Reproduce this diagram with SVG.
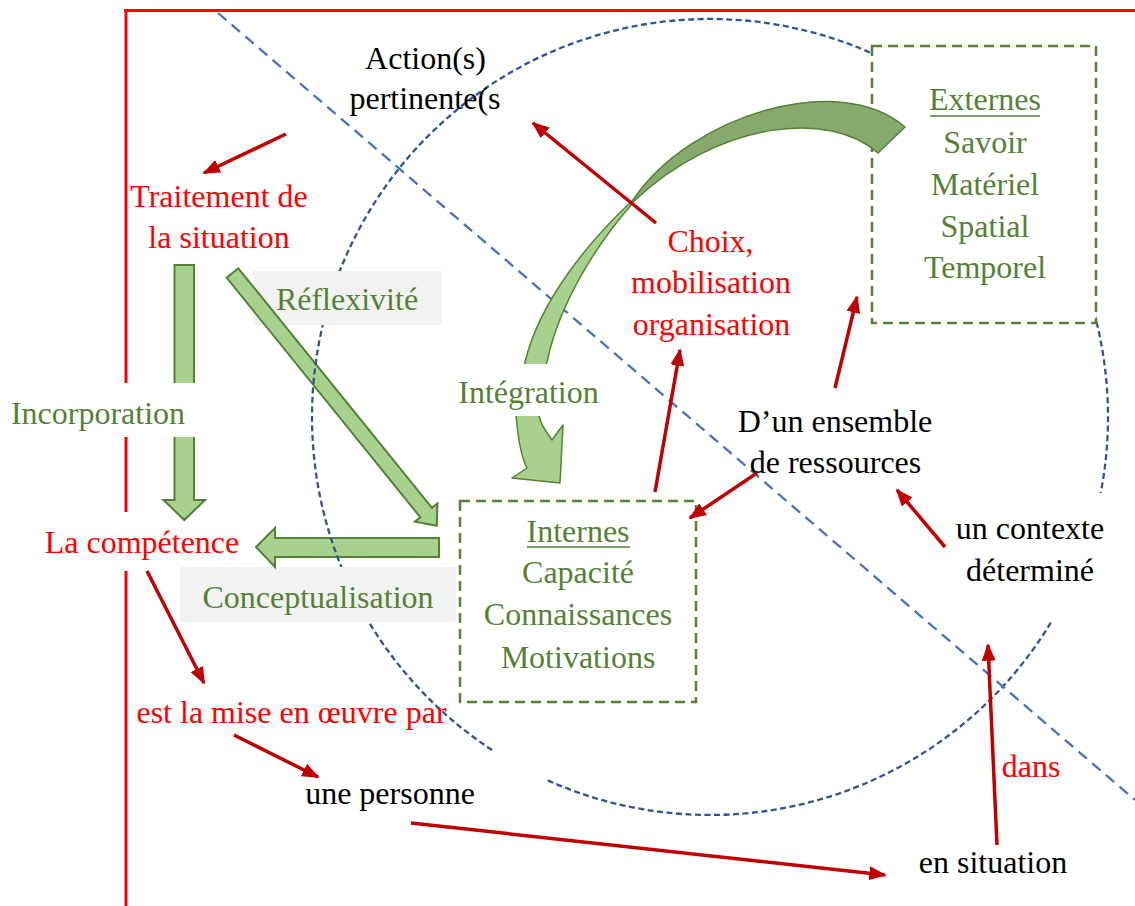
<svg xmlns="http://www.w3.org/2000/svg" width="1135" height="906" viewBox="0 0 1135 906">
<style>
text{font-family:"Liberation Serif","Times New Roman",serif;font-size:32px}
.r{fill:#FF0000}.g{fill:#548235}.k{fill:#000000}
.m{text-anchor:middle}
.ga{fill:#A9D18E;stroke:#538135;stroke-width:2;stroke-linejoin:miter}
.ra{stroke:#C00000;stroke-width:3.5;fill:none;marker-end:url(#ah)}
.box{fill:#FFFFFF;stroke:#548235;stroke-width:2.5;stroke-dasharray:10 6}
.lbl{fill:#F2F2F2}
</style>
<defs>
<marker id="ah" viewBox="0 0 10 8" refX="9" refY="4" markerWidth="5" markerHeight="4" orient="auto" markerUnits="strokeWidth">
<path d="M0,0 L10,4 L0,8 z" fill="#C00000"/>
</marker>
<mask id="cm" maskUnits="userSpaceOnUse" x="0" y="0" width="1135" height="906">
<rect x="0" y="0" width="1135" height="906" fill="#fff"/>
<rect x="253" y="271" width="189" height="54" fill="#000"/>
<rect x="180" y="567" width="276" height="55" fill="#000"/>
</mask>
</defs>

<g id="frame">
<line x1="124" y1="10.5" x2="1135" y2="10.5" stroke="#FF0000" stroke-width="3"/>
<line x1="126" y1="9" x2="126" y2="512" stroke="#FF0000" stroke-width="3"/>
<line x1="126" y1="571" x2="126" y2="906" stroke="#FF0000" stroke-width="3"/>
</g>

<g id="label-bg">
<rect class="lbl" x="253" y="271" width="189" height="54"/>
<rect class="lbl" x="180" y="567" width="276" height="55"/>
</g>

<g id="green-arrows">
<polygon id="incorporation-arrow" class="ga" points="174.5,265 194,265 194,500 205,500 184.3,520 163.5,500 174.5,500"/>
<polygon id="reflexivite-arrow" class="ga" transform="translate(232.5,273) rotate(51.05)" points="0,-7.5 308,-7.5 308,-14.5 325,0 308,14.5 308,7.5 0,7.5"/>
<polygon id="conceptualisation-arrow" class="ga" points="439,538 439,557 275,557 275,567 256,547 275,528 275,538"/>
</g>
<rect x="0" y="383" width="200" height="54" fill="#FFFFFF"/>

<g id="guides" fill="none">
<g mask="url(#cm)" stroke="#2F5597" stroke-width="2.3" stroke-dasharray="6 3.5">
<path d="M1050.8,622.6 A398,398 0 0 1 546.9,780"/>
<path d="M492.1,750 A398,398 0 1 1 1100.7,492.9"/>
</g>
<line x1="218" y1="13" x2="1135" y2="800" stroke="#4472C4" stroke-width="2.3" stroke-dasharray="11 7"/>
</g>

<g id="externes">
<rect class="box" x="872" y="46" width="224" height="277"/>
<text class="g m" x="985" y="110">Externes</text>
<line x1="930" y1="116" x2="1040" y2="116" stroke="#548235" stroke-width="1.5"/>
<text class="g m" x="985" y="153">Savoir</text>
<text class="g m" x="985" y="195">Matériel</text>
<text class="g m" x="985" y="237">Spatial</text>
<text class="g m" x="985" y="278">Temporel</text>
</g>

<g id="internes">
<rect class="box" x="460" y="501" width="236" height="201"/>
<text class="g m" x="578" y="542">Internes</text>
<line x1="527" y1="547" x2="630" y2="547" stroke="#548235" stroke-width="1.5"/>
<text class="g m" x="578" y="583">Capacité</text>
<text class="g m" x="578" y="625">Connaissances</text>
<text class="g m" x="578" y="668">Motivations</text>
</g>

<g id="integration-arrow" stroke="#548235" stroke-width="1.5" stroke-linejoin="round">
<path d="M633,200 C690,115 840,70 905,127 L878,153 C830,110 720,120 633,202 Z" fill="#87A96E"/>
<path d="M633,200 C590,240 540,300 525,362 C519,385 514,405 517,425 C519,445 522,458 527,468 L512,478 L560,483 L563,425 L552,440 C545,430 537,420 538,405 C539,390 542,375 547,362 C560,300 600,240 633,203 Z" fill="#A9D18E"/>
</g>
<rect x="455" y="364" width="147" height="52" fill="#FFFFFF"/>

<g id="labels">
<text class="k m" x="425.5" y="69">Action(s)</text>
<text class="k m" x="425" y="109">pertinente(s</text>
<text class="r m" x="219" y="207">Traitement de</text>
<text class="r m" x="219" y="248">la situation</text>
<text class="g m" x="347" y="310">Réflexivité</text>
<text class="g m" x="98" y="424">Incorporation</text>
<text class="g m" x="528.5" y="403">Intégration</text>
<text class="r m" x="142" y="553">La compétence</text>
<text class="g m" x="318" y="608">Conceptualisation</text>
<text class="r m" x="291.5" y="723">est la mise en œuvre par</text>
<text class="k m" x="390" y="804">une personne</text>
<text class="k m" x="993" y="873">en situation</text>
<text class="r m" x="1031" y="777">dans</text>
<text class="k m" x="1030" y="539">un contexte</text>
<text class="k m" x="1030" y="581">déterminé</text>
<text class="k m" x="835" y="432">D’un ensemble</text>
<text class="k m" x="835.5" y="473">de ressources</text>
<text class="r m" x="710.5" y="252">Choix,</text>
<text class="r m" x="711" y="293">mobilisation</text>
<text class="r m" x="711.5" y="335">organisation</text>
</g>

<g id="connectors">
<line class="ra" x1="286" y1="134" x2="204" y2="173"/>
<line class="ra" x1="656" y1="223" x2="533" y2="123"/>
<line class="ra" x1="655" y1="492" x2="680" y2="350"/>
<line class="ra" x1="835" y1="388" x2="857" y2="297"/>
<line class="ra" x1="757" y1="473" x2="690" y2="518"/>
<line class="ra" x1="945" y1="547" x2="897" y2="490"/>
<line class="ra" x1="997" y1="845" x2="988" y2="645"/>
<line class="ra" x1="411" y1="823" x2="885" y2="875"/>
<line class="ra" x1="147" y1="571" x2="204" y2="683"/>
<line class="ra" x1="234" y1="735" x2="318" y2="777"/>
</g>
</svg>
